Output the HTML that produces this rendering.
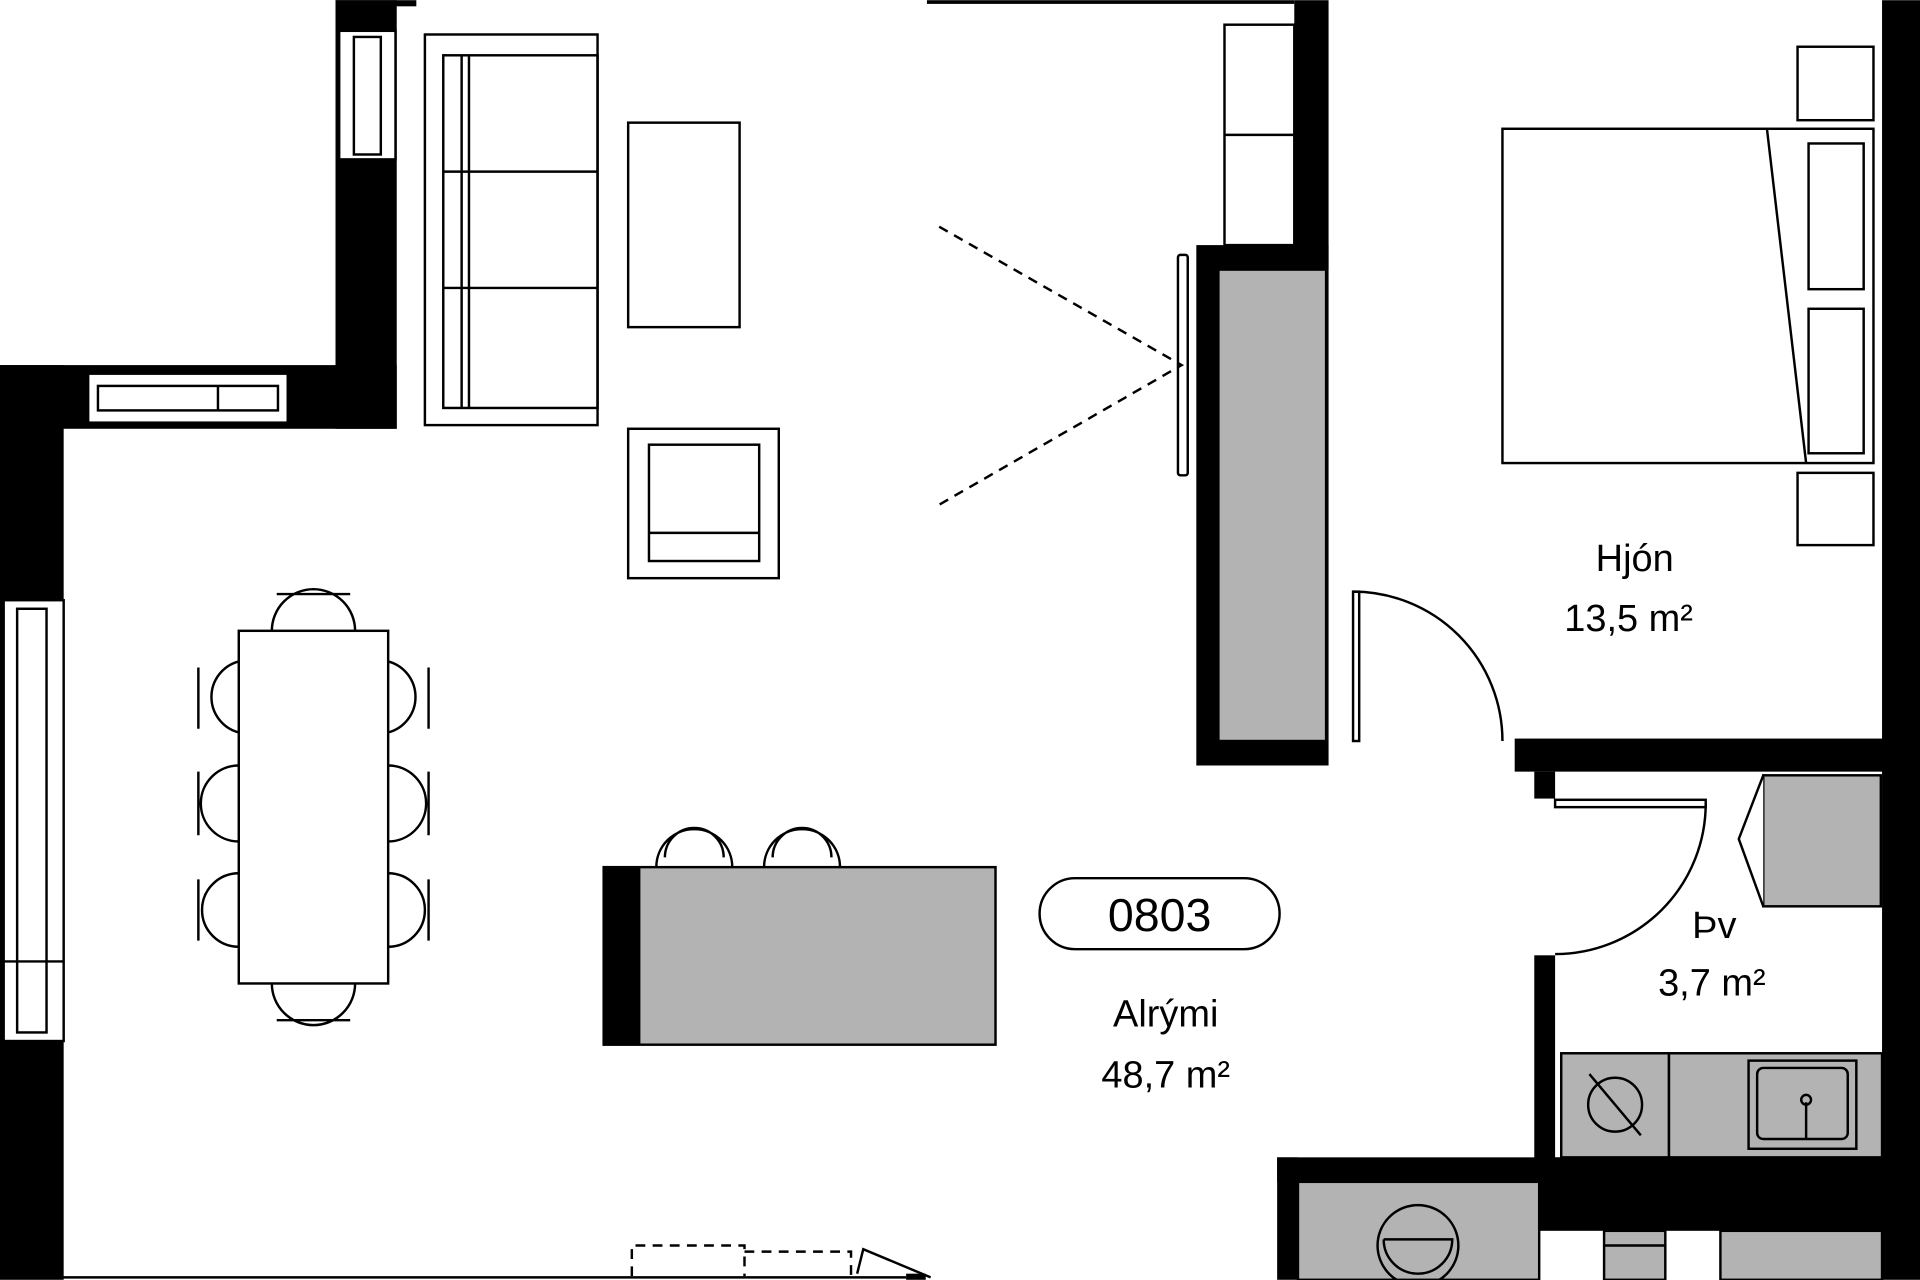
<!DOCTYPE html>
<html><head><meta charset="utf-8"><style>html,body{margin:0;padding:0;background:#fff}svg{display:block}</style></head>
<body>
<svg width="1920" height="1280" viewBox="0 0 1568 1045" xmlns="http://www.w3.org/2000/svg" font-family="Liberation Sans, DejaVu Sans, sans-serif">
<rect width="1568" height="1045" fill="#fff"/>
<g fill="#000">
<rect x="274" y="0" width="50" height="350"/>
<rect x="274" y="0" width="66" height="5"/>
<rect x="0" y="298" width="324" height="52"/>
<rect x="0" y="298" width="52" height="747"/>
<rect x="757" y="0" width="300" height="3"/>
<rect x="1057" y="0" width="28" height="220"/>
<rect x="977" y="200" width="108" height="425"/>
<rect x="1237" y="603" width="331" height="27"/>
<rect x="1253" y="630" width="17" height="22"/>
<rect x="1253" y="780" width="17" height="185"/>
<rect x="1537" y="0" width="31" height="1045"/>
<rect x="1043" y="945" width="525" height="20"/>
<rect x="1257" y="945" width="311" height="60"/>
<rect x="1043" y="945" width="17" height="100"/>
<rect x="740" y="1040" width="16" height="5"/>
</g>
<g fill="#fff" stroke="#000" stroke-width="2">
<rect x="277" y="25" width="46" height="105"/>
<rect x="289" y="30" width="22" height="96"/>
<rect x="72" y="305" width="163" height="40"/>
<rect x="80" y="315" width="147" height="20"/>
<line x1="178" y1="315" x2="178" y2="335"/>
<rect x="3" y="490" width="49" height="360"/>
<rect x="14" y="497" width="24" height="346"/>
<line x1="3" y1="785" x2="52" y2="785"/>
</g>
<g fill="#b3b3b3" stroke="#000" stroke-width="2">
<rect x="995" y="220" width="88" height="385"/>
<rect x="1440" y="633" width="96" height="107"/>
<rect x="1275" y="860" width="88" height="85"/>
<rect x="1363" y="860" width="174" height="85"/>
<rect x="1060" y="965" width="197" height="80"/>
<rect x="1310" y="1005" width="50" height="40"/>
<rect x="1405" y="1005" width="132" height="40"/>
<rect x="493" y="708" width="320" height="145"/>
</g>
<rect x="493" y="708" width="30" height="145" fill="#000"/>
<g fill="none" stroke="#000" stroke-width="2">
<line x1="1310" y1="1017" x2="1360" y2="1017"/>
<polyline points="1440,633 1420,685 1440,740" fill="#fff"/>
<rect x="1000" y="20" width="57" height="180" fill="#fff"/>
<line x1="1000" y1="110" x2="1057" y2="110"/>
<rect x="962" y="208" width="8" height="180" rx="2"/>
<path d="M767,185 L965,298 L767,412" stroke-dasharray="8,6"/>
<rect x="1227" y="105" width="303" height="273"/>
<line x1="1443" y1="105" x2="1475" y2="378"/>
<rect x="1468" y="38" width="62" height="60"/>
<rect x="1468" y="386" width="62" height="59"/>
<rect x="1477" y="117" width="45" height="119"/>
<rect x="1477" y="252" width="45" height="118"/>
<rect x="1105" y="483" width="5" height="122" fill="#fff"/>
<path d="M1105,483 A122,122 0 0 1 1227,605"/>
<rect x="1270" y="653" width="123" height="6" fill="#fff"/>
<path d="M1393,656 A123,123 0 0 1 1270,779"/>
<rect x="347" y="28" width="141" height="319"/>
<rect x="362" y="45" width="126" height="288"/>
<line x1="377" y1="45" x2="377" y2="333"/>
<line x1="383" y1="45" x2="383" y2="333"/>
<line x1="362" y1="140" x2="488" y2="140"/>
<line x1="362" y1="235" x2="488" y2="235"/>
<rect x="513" y="100" width="91" height="167"/>
<rect x="513" y="350" width="123" height="122"/>
<rect x="530" y="363" width="90" height="95"/>
<line x1="530" y1="435" x2="620" y2="435"/>
<rect x="195" y="515" width="122" height="288" fill="#fff"/>
<path d="M222,515 A34,34 0 0 1 290,515 M226,485 L286,485"/>
<path d="M222,803 A34,34 0 0 0 290,803 M226,833 L286,833"/>
<path d="M195,540 A30,30 0 0 0 195,598 M162,545 L162,595"/>
<path d="M195,625 A30,30 0 0 0 195,687 M162,630 L162,682"/>
<path d="M195,713 A30,30 0 0 0 195,773 M162,718 L162,768"/>
<path d="M317,540 A30,30 0 0 1 317,598 M350,545 L350,595"/>
<path d="M317,625 A30,30 0 0 1 317,687 M350,630 L350,682"/>
<path d="M317,713 A30,30 0 0 1 317,773 M350,718 L350,768"/>
<path d="M536,708 A31,31 0 0 1 598,708 M543,700 A24,24 0 0 1 591,700"/>
<path d="M624,708 A31,31 0 0 1 686,708 M631,700 A24,24 0 0 1 679,700"/>
<rect x="849" y="717" width="196" height="58" rx="29" fill="#fff"/>
<circle cx="1319" cy="902" r="22"/>
<line x1="1298" y1="877" x2="1340" y2="927"/>
<rect x="1428" y="866" width="88" height="72"/>
<rect x="1435" y="872" width="74" height="58" rx="5"/>
<line x1="1475" y1="900" x2="1475" y2="930"/>
<circle cx="1475" cy="898" r="4"/>
<circle cx="1158" cy="1017" r="33"/>
<path d="M1130,1012 L1186,1012 A28,28 0 0 1 1130,1012"/>
<path d="M516,1042 L516,1017 L608,1017 L608,1042 M608,1022 L695,1022 L695,1042" stroke-dasharray="8,6"/>
<line x1="0" y1="1043" x2="740" y2="1043"/>
<path d="M700,1040 L705,1020 L760,1043"/>
</g>
<g font-size="31" text-anchor="middle" fill="#000">
<text x="947" y="760" font-size="38">0803</text>
<text x="952" y="838">Alrými</text>
<text x="952" y="888">48,7 m²</text>
<text x="1335" y="466">Hjón</text>
<text x="1330" y="515">13,5 m²</text>
<text x="1400" y="766">Þv</text>
<text x="1398" y="813">3,7 m²</text>
</g>
</svg>
</body></html>
